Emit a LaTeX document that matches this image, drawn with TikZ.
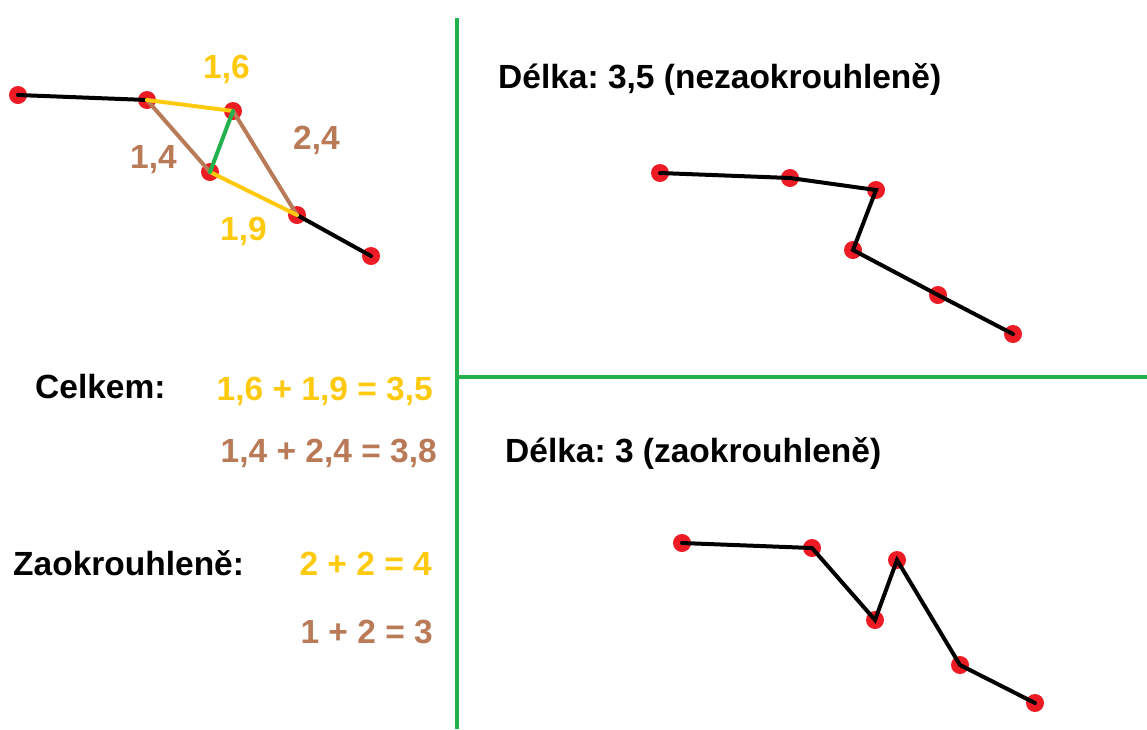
\documentclass[tikz,border=0pt]{standalone}
\usepackage{fontspec}
\setmainfont{Liberation Sans}
\usetikzlibrary{positioning}
\definecolor{dotred}{HTML}{ED1C24}
\definecolor{gold}{HTML}{FFC90E}
\definecolor{brown}{HTML}{B97A57}
\definecolor{green}{HTML}{22B14C}
\tikzset{
  pt/.style={circle,fill=dotred,inner sep=0pt,minimum size=18pt},
  seg/.style={draw=black,line width=4pt,line cap=round},
  goldseg/.style={draw=gold,line width=4pt,line cap=round},
  brownseg/.style={draw=brown,line width=4pt,line cap=round},
  greenseg/.style={draw=green,line width=4pt,line cap=round},
  divider/.style={draw=green,line width=3.5pt},
  txt/.style={font=\bfseries\fontsize{33.5}{38}\selectfont,inner sep=0pt,anchor=base west},
  goldtxt/.style={txt,text=gold},
  browntxt/.style={txt,text=brown}}
\frenchspacing
\begin{document}
\begin{tikzpicture}[x=1pt,y=-1pt]
  \useasboundingbox (0,0) rectangle (1147,729);
  % dividers
  \coordinate (vtop) at (457,18);
  \coordinate (vbot) at (457,729);
  \coordinate (hl) at (457,377);
  \coordinate (hr) at (1147,377);
  \draw[divider] (vtop) -- (vbot);
  \draw[divider] (hl) -- (hr);
  % left: the two diagonals
  \node[pt] (a1) at (18,95) {};
  \node[pt] (a2) at (147,100) {};
  \node[pt] (a3) at (233,111) {};
  \node[pt] (a4) at (210,172) {};
  \node[pt] (a5) at (297,215) {};
  \node[pt] (a6) at (371,256) {};
  \draw[seg] (a1.center) -- (a2.center);
  \draw[seg] (a5.center) -- (a6.center);
  \draw[brownseg] (a2.center) -- (a4.center);
  \draw[brownseg] (a3.center) -- (a5.center);
  \draw[goldseg] (a2.center) -- (a3.center);
  \draw[goldseg] (a4.center) -- (a5.center);
  \draw[greenseg] (a3.center) -- (a4.center);
  \node[goldtxt] (l16) at (203,78) {1,6};
  \node[browntxt] (l24) at (293,149) {2,4};
  \node[browntxt] (l14) at (130,168) {1,4};
  \node[goldtxt] (l19) at (220,240) {1,9};
  % sums
  \node[txt] (celkem) at (35,398) {Celkem:};
  \node[goldtxt,anchor=base east] (s1) at (433,400) {1,6 + 1,9 = 3,5};
  \node[browntxt,anchor=base east] (s2) at (437,462) {1,4 + 2,4 = 3,8};
  \node[txt] (zaokr) at (13,575) {Zaokrouhleně:};
  \node[goldtxt,anchor=base east] (r1) at (432,575) {2 + 2 = 4};
  \node[browntxt,anchor=base east] (r2) at (433,643) {1 + 2 = 3};
  % right top: unrounded
  \node[txt] (t1) at (498,88) {Délka: 3,5 (nezaokrouhleně)};
  \node[pt] (b1) at (660,173) {};
  \node[pt] (b2) at (790,178) {};
  \node[pt] (b3) at (876,190) {};
  \node[pt] (b4) at (853,250) {};
  \node[pt] (b5) at (938,295) {};
  \node[pt] (b6) at (1013,334) {};
  \draw[seg] (b1.center) -- (b2.center) -- (b3.center) -- (b4.center) -- (b5.center) -- (b6.center);
  % right bottom: rounded
  \node[txt] (t2) at (505,462) {Délka: 3 (zaokrouhleně)};
  \node[pt] (c1) at (682,543) {};
  \node[pt] (c2) at (812,548) {};
  \node[pt] (c3) at (875,620) {};
  \node[pt] (c4) at (897,560) {};
  \node[pt] (c5) at (960,665) {};
  \node[pt] (c6) at (1035,703) {};
  \draw[seg] (c1.center) -- (c2.center) -- (c3.center) -- (c4.center) -- (c5.center) -- (c6.center);
\end{tikzpicture}
\end{document}
